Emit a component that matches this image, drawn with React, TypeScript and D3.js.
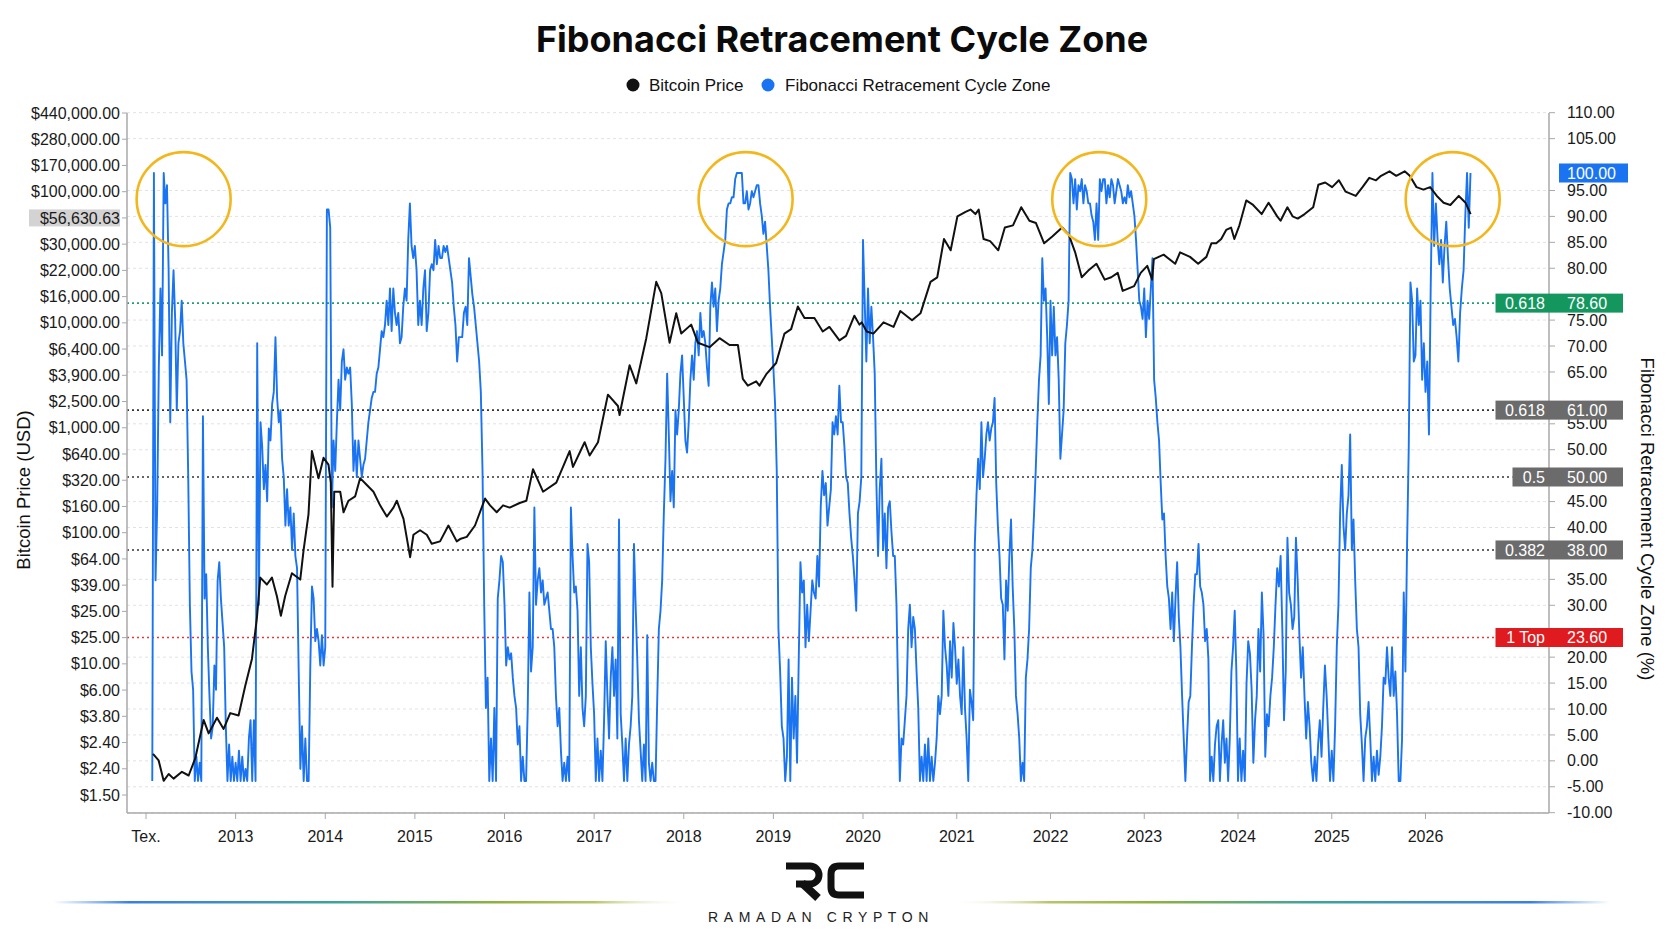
import React from "react";
import * as d3 from "d3";

// ---- data ----
const yearLabels = ["Tex.", "2013", "2014", "2015", "2016", "2017", "2018", "2019", "2020", "2021", "2022", "2023", "2024", "2025", "2026"];
const labelYears = d3.range(2012, 2027);

const priceTickLabels = [
  "$440,000.00", "$280,000.00", "$170,000.00", "$100,000.00", "$56,630.63", "$30,000.00", "$22,000.00",
  "$16,000.00", "$10,000.00", "$6,400.00", "$3,900.00", "$2,500.00", "$1,000.00", "$640.00", "$320.00",
  "$160.00", "$100.00", "$64.00", "$39.00", "$25.00", "$25.00", "$10.00", "$6.00", "$3.80", "$2.40", "$2.40", "$1.50",
];
const currentPriceLabel = "$56,630.63";

const fibTicks = [110, 105, 95, 90, 85, 80, 75, 70, 65, 55, 50, 45, 40, 35, 30, 20, 15, 10, 5, 0, -5, -10];
const fibLevels = [
  { ratio: "", value: 100, kind: "current" },
  { ratio: "0.618", value: 78.6, kind: "upper" },
  { ratio: "0.618", value: 61, kind: "mid" },
  { ratio: "0.5", value: 50, kind: "mid" },
  { ratio: "0.382", value: 38, kind: "mid" },
  { ratio: "1 Top", value: 23.6, kind: "top" },
];

// years where the cycle zone topped out (circled)
const cycleTops = [2012.42, 2018.69, 2022.52, 2026.29];
const cycleTopLevel = 95.7;

// Bitcoin price [year, USD]
const btcPrice = [
  [2012.078, 3.2], [2012.141, 2.84], [2012.197, 1.95], [2012.253, 2.21], [2012.308, 2.03], [2012.401, 2.3],
  [2012.476, 2.15], [2012.55, 2.96], [2012.643, 6.0], [2012.699, 4.68], [2012.792, 6.25], [2012.866, 5.08],
  [2012.94, 6.8], [2013.033, 6.5], [2013.107, 11.2], [2013.182, 18.5], [2013.237, 39], [2013.275, 83],
  [2013.349, 73], [2013.405, 83], [2013.46, 59], [2013.505, 41], [2013.553, 59], [2013.628, 90],
  [2013.721, 80], [2013.758, 137], [2013.813, 267], [2013.851, 857], [2013.925, 520], [2013.981, 757],
  [2014.036, 667], [2014.062, 479], [2014.081, 70], [2014.1, 405], [2014.167, 405], [2014.204, 277],
  [2014.259, 343], [2014.334, 372], [2014.389, 520], [2014.464, 458], [2014.538, 405], [2014.612, 315],
  [2014.687, 256], [2014.761, 302], [2014.798, 343], [2014.873, 245], [2014.947, 121], [2014.984, 183],
  [2015.058, 199], [2015.133, 183], [2015.188, 155], [2015.281, 162], [2015.374, 217], [2015.467, 162],
  [2015.504, 169], [2015.579, 176], [2015.671, 217], [2015.783, 357], [2015.839, 315], [2015.913, 277],
  [2015.984, 315], [2016.058, 302], [2016.169, 329], [2016.244, 343], [2016.318, 614], [2016.43, 405],
  [2016.578, 479], [2016.727, 857], [2016.764, 640], [2016.894, 1010], [2016.95, 790], [2017.043, 1010],
  [2017.154, 2430], [2017.266, 1970], [2017.284, 1670], [2017.396, 4180], [2017.47, 2990], [2017.582, 6890],
  [2017.693, 19500], [2017.749, 15850], [2017.842, 6340], [2017.916, 10900], [2017.972, 7500], [2018.083, 8850],
  [2018.158, 6340], [2018.288, 5840], [2018.399, 6890], [2018.511, 6080], [2018.604, 6080], [2018.659, 3250],
  [2018.715, 2870], [2018.808, 3110], [2018.845, 2870], [2018.919, 3530], [2019.031, 4360], [2019.124, 7500],
  [2019.198, 8140], [2019.273, 12360], [2019.347, 10000], [2019.458, 10000], [2019.551, 7800], [2019.625, 8480],
  [2019.737, 6610], [2019.811, 7180], [2019.904, 10430], [2019.96, 8850], [2019.985, 9230], [2020.039, 7800],
  [2020.111, 7500], [2020.219, 9230], [2020.326, 8480], [2020.398, 11380], [2020.523, 9590], [2020.613, 10900],
  [2020.72, 19500], [2020.792, 21200], [2020.864, 43000], [2020.935, 34900], [2021.007, 65300], [2021.094, 71000],
  [2021.147, 74000], [2021.199, 68100], [2021.234, 74000], [2021.286, 43000], [2021.356, 41300], [2021.443, 34900],
  [2021.513, 53100], [2021.6, 55300], [2021.688, 77200], [2021.775, 60200], [2021.845, 57700], [2021.932, 39700],
  [2022.019, 45000], [2022.124, 53100], [2022.194, 46800], [2022.263, 33600], [2022.333, 21200], [2022.403, 24000],
  [2022.49, 27200], [2022.578, 20300], [2022.648, 21200], [2022.717, 23000], [2022.77, 16500], [2022.892, 18000],
  [2022.962, 23000], [2023.032, 26200], [2023.084, 20300], [2023.102, 29600], [2023.207, 32200], [2023.33, 27200],
  [2023.382, 33600], [2023.488, 30900], [2023.575, 27200], [2023.663, 30900], [2023.716, 39700], [2023.768, 39700],
  [2023.821, 43000], [2023.874, 50800], [2023.926, 53100], [2023.961, 43000], [2024.015, 55300], [2024.088, 87600],
  [2024.161, 80600], [2024.253, 68100], [2024.326, 84000], [2024.418, 65300], [2024.454, 60200], [2024.527, 77200],
  [2024.582, 65300], [2024.637, 62700], [2024.711, 68100], [2024.802, 77200], [2024.857, 117000], [2024.93, 122000],
  [2025.004, 112000], [2025.076, 127000], [2025.148, 103000], [2025.256, 95200], [2025.328, 112000], [2025.4, 133000],
  [2025.472, 127000], [2025.526, 138000], [2025.616, 150000], [2025.688, 138000], [2025.778, 150000], [2025.832, 138000],
  [2025.904, 112000], [2025.977, 107000], [2026.049, 112000], [2026.121, 95200], [2026.193, 84000], [2026.265, 80600],
  [2026.355, 95200], [2026.427, 84000], [2026.481, 68100],
];

// Fibonacci retracement cycle zone (%), readings spread evenly over each calendar year
const seriesStart = 2012.07;
const seriesEnd = 2026.48;
const fib2012 = [0, 100, 33, 45, 68, 81, 70, 100, 95, 98, 84, 59, 77, 84, 76, 61, 72, 74, 79, 72, 69, 66, 50, 29, 18, 15, 0, 4, 0, 3, 0, 60, 30, 34, 22, 14, 7, 9, 19, 15, 33, 36, 30, 26, 22, 9, 0, 6, 0, 4, 0];
const fib2013 = [3, 0, 5, 0, 4, 0, 2, 0, 7, 10, 0, 10, 0, 72, 29, 59, 55, 48, 52, 46, 58, 56, 62, 64, 73, 63, 59, 61, 53, 50, 42, 48, 42, 45, 38, 44, 37, 35, 18, 2, 9, 0, 7, 0, 0, 19, 32, 30, 23, 25, 23, 19, 24, 19];
const fib2014 = [22, 94, 94, 91, 45, 56, 51, 59, 66, 61, 69, 71, 66, 68, 67, 68, 62, 51, 56, 50, 56, 53, 50, 52, 53, 56, 59, 61, 63, 64, 64, 67, 68, 71, 74, 73, 75, 79, 75, 81, 74, 81, 77, 75, 77, 72, 73, 78, 81, 79, 89, 95, 88, 86];
const fib2015 = [88, 84, 75, 79, 75, 81, 84, 74, 77, 84, 85, 84, 89, 85, 88, 86, 86, 88, 87, 88, 86, 84, 82, 78, 75, 69, 73, 73, 73, 77, 78, 75, 86, 83, 80, 78, 75, 72, 69, 64, 51, 29, 12, 17, 0, 7, 0, 12, 0, 30, 33, 37, 36];
const fib2016 = [29, 19, 22, 20, 21, 17, 14, 12, 6, 9, 0, 4, 0, 0, 12, 31, 18, 22, 45, 29, 33, 35, 31, 33, 29, 30, 31, 28, 25, 25, 22, 14, 9, 12, 5, 0, 3, 0, 4, 0, 45, 37, 31, 32, 28, 14, 22, 12, 9, 14, 39, 36, 22, 16];
const fib2017 = [11, 0, 7, 0, 5, 0, 10, 23, 14, 7, 17, 22, 14, 20, 7, 43, 11, 6, 0, 7, 0, 6, 9, 14, 39, 29, 20, 10, 5, 0, 6, 0, 24, 3, 0, 3, 0, 0, 13, 25, 28, 33, 44, 53, 67, 57, 46, 51, 45, 61, 57, 61, 67, 70];
const fib2018 = [63, 56, 54, 59, 66, 70, 66, 72, 74, 70, 77, 73, 74, 72, 68, 65, 78, 82, 78, 81, 74, 79, 81, 85, 87, 89, 94, 95, 95, 96, 96, 99, 100, 100, 100, 100, 95, 95, 97, 94, 95, 97, 96, 97, 98, 98, 95, 93, 90, 92, 88, 84, 78, 73];
const fib2019 = [68, 62, 51, 25, 18, 9, 7, 0, 4, 20, 0, 17, 7, 14, 3, 20, 36, 31, 33, 22, 29, 23, 28, 33, 31, 30, 37, 32, 45, 51, 47, 49, 42, 45, 48, 59, 57, 60, 57, 65, 59, 59, 55, 50, 49, 44, 40, 37, 33, 28, 44, 46, 50];
const fib2020 = [89, 79, 69, 81, 72, 78, 73, 67, 49, 37, 48, 53, 38, 44, 35, 45, 46, 41, 37, 37, 29, 14, 0, 7, 6, 10, 14, 25, 29, 22, 27, 25, 18, 12, 0, 4, 0, 6, 0, 7, 0, 4, 0, 3, 7, 14, 11, 14, 28, 22, 19, 14, 23, 17, 26, 22];
const fib2021 = [16, 20, 14, 11, 22, 12, 7, 0, 15, 13, 10, 39, 47, 53, 48, 59, 50, 53, 57, 59, 56, 58, 59, 63, 49, 42, 37, 30, 29, 20, 33, 28, 37, 43, 32, 25, 14, 11, 7, 0, 3, 0, 17, 20, 25, 35, 38, 44, 51, 59, 66, 70, 86, 79, 81, 73, 62];
const fib2022 = [79, 70, 78, 70, 73, 66, 53, 57, 61, 72, 75, 79, 100, 99, 95, 99, 94, 98, 97, 99, 95, 98, 97, 95, 95, 93, 92, 89, 95, 89, 99, 97, 99, 99, 95, 98, 96, 99, 98, 95, 97, 99, 98, 97, 95, 96, 95, 98, 96, 97, 95, 93, 89, 84, 79, 78, 76];
const fib2023 = [81, 73, 79, 76, 81, 86, 66, 63, 59, 56, 49, 43, 44, 37, 32, 30, 25, 31, 23, 30, 36, 27, 22, 14, 7, 0, 7, 13, 14, 22, 29, 34, 34, 39, 32, 31, 29, 23, 25, 20, 0, 4, 0, 6, 9, 10, 0, 6, 10, 3, 7, 0, 7, 18, 22, 28, 18];
const fib2024 = [0, 7, 0, 5, 0, 16, 23, 21, 15, 3, 10, 14, 25, 18, 31, 24, 4, 11, 9, 14, 17, 22, 29, 35, 32, 37, 25, 10, 18, 40, 31, 29, 25, 27, 40, 33, 24, 17, 22, 14, 7, 13, 9, 3, 0, 4, 0, 6, 10, 4, 12, 19, 14, 7, 0];
const fib2025 = [5, 0, 9, 22, 29, 44, 52, 42, 38, 44, 47, 57, 38, 43, 33, 25, 22, 11, 6, 0, 7, 9, 13, 7, 0, 4, 0, 5, 1, 4, 9, 17, 16, 22, 17, 14, 22, 14, 18, 11, 0, 0, 7, 31, 18, 39, 55, 82, 79, 69, 70, 81, 75, 79, 66, 72];
const fib2026 = [64, 69, 57, 81, 100, 88, 95, 89, 85, 89, 82, 88, 92, 86, 81, 78, 75, 76, 73, 69, 77, 81, 84, 93, 100, 91, 100];

const fibByYear: [number, number[]][] = [
  [2012, fib2012], [2013, fib2013], [2014, fib2014], [2015, fib2015], [2016, fib2016],
  [2017, fib2017], [2018, fib2018], [2019, fib2019], [2020, fib2020], [2021, fib2021],
  [2022, fib2022], [2023, fib2023], [2024, fib2024], [2025, fib2025], [2026, fib2026],
];

// ---- look ----
const W = 1672;
const H = 941;
const BLUE = "#1a73f0";
const AXIS_FONT = "'Liberation Sans', Arial, Helvetica, sans-serif";
const TITLE_FONT = "Inter, 'Noto Sans', sans-serif";
const levelStyle = {
  current: { fill: BLUE, line: null },
  upper: { fill: "#14975f", line: "#1f9e6e" },
  mid: { fill: "#6b6b6b", line: "#333333" },
  top: { fill: "#e01b1f", line: "#e53935" },
};
const plot = { left: 127, right: 1549, top: 113, bottom: 813 };

export default function App() {
  const x = d3.scaleLinear().domain([2012, 2020, 2026]).range([146, 863, 1425.5]);
  const priceY = d3.scaleLog().domain([1.5, 440000]).range([795, plot.top]);
  const fibY = d3.scaleLinear().domain([0, 100]).range([781, 173]);

  const priceSlot = d3.scalePoint<number>().domain(d3.range(priceTickLabels.length)).range([plot.top, 795]);

  const fibSlots = [
    ...fibTicks.map((v) => ({ v, level: false })),
    ...fibLevels.map((l) => ({ v: l.value, level: true })),
  ].sort((a, b) => b.v - a.v || Number(a.level) - Number(b.level));
  const fibSlot = d3.scalePoint<number>().domain(d3.range(fibSlots.length)).range([112.7, 812.7]);
  const fibTickPos = fibSlots
    .map((s, i) => ({ ...s, y: fibSlot(i) as number }))
    .filter((s) => !s.level);

  const fibPoints = fibByYear.flatMap(([year, values]) => {
    const lo = Math.max(year, seriesStart);
    const hi = Math.min(year + 1, seriesEnd);
    const last = year + 1 > seriesEnd;
    const step = (hi - lo) / (last ? values.length - 1 : values.length);
    return values.map((v, i) => ({ t: lo + i * step, v }));
  });

  const fibLine = d3.line<{ t: number; v: number }>().x((d) => x(d.t)).y((d) => fibY(d.v));
  const priceLine = d3.line<number[]>().x((d) => x(d[0])).y((d) => priceY(d[1]));

  const boxLeft = (ratio: string) => (ratio ? 1545 - ratio.length * 8.5 - 7 : 1559);

  return (
    <svg
      width={W}
      height={H}
      viewBox={`0 0 ${W} ${H}`}
      style={{ position: "absolute", left: 0, top: 0, background: "#fff" }}
      fontFamily={AXIS_FONT}
    >
      <defs>
        <linearGradient id="fadeL" x1="0" x2="1" y1="0" y2="0">
          <stop offset="0" stopColor="#4a8fe6" stopOpacity="0" />
          <stop offset="0.12" stopColor="#3c7fe0" />
          <stop offset="0.45" stopColor="#3fa39a" />
          <stop offset="0.7" stopColor="#8fb23e" />
          <stop offset="0.85" stopColor="#b9c46a" />
          <stop offset="1" stopColor="#ffffff" stopOpacity="0" />
        </linearGradient>
        <linearGradient id="fadeR" x1="1" x2="0" y1="0" y2="0">
          <stop offset="0" stopColor="#4a8fe6" stopOpacity="0" />
          <stop offset="0.12" stopColor="#3c7fe0" />
          <stop offset="0.45" stopColor="#3fa39a" />
          <stop offset="0.7" stopColor="#8fb23e" />
          <stop offset="0.85" stopColor="#b9c46a" />
          <stop offset="1" stopColor="#ffffff" stopOpacity="0" />
        </linearGradient>
      </defs>

      {/* title + legend */}
      <text x={842} y={52} textAnchor="middle" fontFamily={TITLE_FONT} fontWeight={700} fontSize={36} fill="#0b0b0b">
        Fibonacci Retracement Cycle Zone
      </text>
      <g fontSize={17} fill="#111">
        <circle cx={633} cy={85} r={6.5} fill="#111" />
        <text x={649} y={85} dy="0.35em">Bitcoin Price</text>
        <circle cx={768} cy={85} r={6.5} fill={BLUE} />
        <text x={785} y={85} dy="0.35em">Fibonacci Retracement Cycle Zone</text>
      </g>

      {/* grid */}
      {fibTickPos.map((t) => (
        <line key={`g${t.v}`} x1={plot.left} x2={plot.right} y1={t.y} y2={t.y} stroke="#e2e2e2" strokeDasharray="3,3" />
      ))}

      {/* fib level lines */}
      {fibLevels
        .filter((l) => levelStyle[l.kind].line)
        .map((l) => (
          <line
            key={`l${l.value}`}
            x1={plot.left}
            x2={boxLeft(l.ratio)}
            y1={fibY(l.value)}
            y2={fibY(l.value)}
            stroke={levelStyle[l.kind].line}
            strokeWidth={1.6}
            strokeDasharray="2,3"
          />
        ))}

      {/* series */}
      <path d={fibLine(fibPoints) ?? ""} fill="none" stroke={BLUE} strokeWidth={1.9} strokeLinejoin="round" />
      <path d={priceLine(btcPrice) ?? ""} fill="none" stroke="#111" strokeWidth={2} strokeLinejoin="round" />

      {/* cycle top circles */}
      {cycleTops.map((t) => (
        <circle key={t} cx={x(t)} cy={fibY(cycleTopLevel)} r={47} fill="none" stroke="#f3b71d" strokeWidth={2.6} />
      ))}

      {/* axes frame */}
      <g stroke="#a8a8a8" strokeWidth={1.5} fill="none">
        <line x1={plot.left} x2={plot.left} y1={plot.top} y2={plot.bottom} />
        <line x1={plot.right} x2={plot.right} y1={plot.top} y2={plot.bottom} />
        <line x1={plot.left} x2={plot.right} y1={plot.bottom} y2={plot.bottom} />
      </g>

      {/* left axis */}
      <g fontSize={16} fill="#1a1a1a" textAnchor="end">
        {priceTickLabels.map((label, i) => {
          const y = priceSlot(i) as number;
          const hl = label === currentPriceLabel;
          return (
            <g key={`p${i}`}>
              <line x1={plot.left - 5} x2={plot.left} y1={y} y2={y} stroke="#a8a8a8" />
              {hl && <rect x={29} y={y - 8.5} width={91} height={17} fill="#d3d3d3" />}
              <text x={120} y={y} dy="0.35em">{label}</text>
            </g>
          );
        })}
      </g>
      <text
        transform={`translate(24,490) rotate(-90)`}
        textAnchor="middle"
        dy="0.35em"
        fontSize={18.5}
        fill="#111"
      >
        Bitcoin Price (USD)
      </text>

      {/* right axis */}
      <g fontSize={16} fill="#1a1a1a">
        {fibTickPos.map((t) => (
          <g key={`f${t.v}`}>
            <line x1={plot.right} x2={plot.right + 6} y1={t.y} y2={t.y} stroke="#a8a8a8" />
            <text x={1567} y={t.y} dy="0.35em">{t.v.toFixed(2)}</text>
          </g>
        ))}
      </g>
      {fibLevels.map((l) => {
        const y = fibY(l.value);
        const left = boxLeft(l.ratio);
        const right = l.ratio ? 1623 : 1628;
        return (
          <g key={`b${l.value}`} fontSize={16} fill="#fff">
            <rect x={left} y={y - 9.5} width={right - left} height={19} fill={levelStyle[l.kind].fill} />
            {l.ratio && (
              <text x={1545} y={y} dy="0.35em" textAnchor="end">{l.ratio}</text>
            )}
            <text x={1567} y={y} dy="0.35em">{l.value.toFixed(2)}</text>
          </g>
        );
      })}
      <text
        transform={`translate(1647,519) rotate(90)`}
        textAnchor="middle"
        dy="0.35em"
        fontSize={18.5}
        fill="#111"
      >
        Fibonacci Retracement Cycle Zone (%)
      </text>

      {/* bottom axis */}
      <g fontSize={16} fill="#1a1a1a" textAnchor="middle">
        {labelYears.map((yr, i) => (
          <g key={yr}>
            <line x1={x(yr)} x2={x(yr)} y1={plot.bottom} y2={plot.bottom + 6} stroke="#a8a8a8" />
            <text x={x(yr)} y={836} dy="0.35em">{yearLabels[i]}</text>
          </g>
        ))}
      </g>

      {/* footer brand */}
      <rect x={53} y={901} width={637} height={2.5} fill="url(#fadeL)" />
      <rect x={950} y={901} width={660} height={2.5} fill="url(#fadeR)" />
      <g transform="translate(784,862)" fill="none" stroke="#111" strokeWidth={7}>
        <path d="M2,4 H26 A9,9 0 0 1 26,22 H12" />
        <path d="M18,21 L34,36" strokeWidth={8} />
        <path d="M80,4 H55 Q47,4 47,12 V25 Q47,33 55,33 H80" />
      </g>
      <text x={821} y={922} textAnchor="middle" fontSize={14} letterSpacing={5.6} fill="#222">
        RAMADAN CRYPTON
      </text>
    </svg>
  );
}
